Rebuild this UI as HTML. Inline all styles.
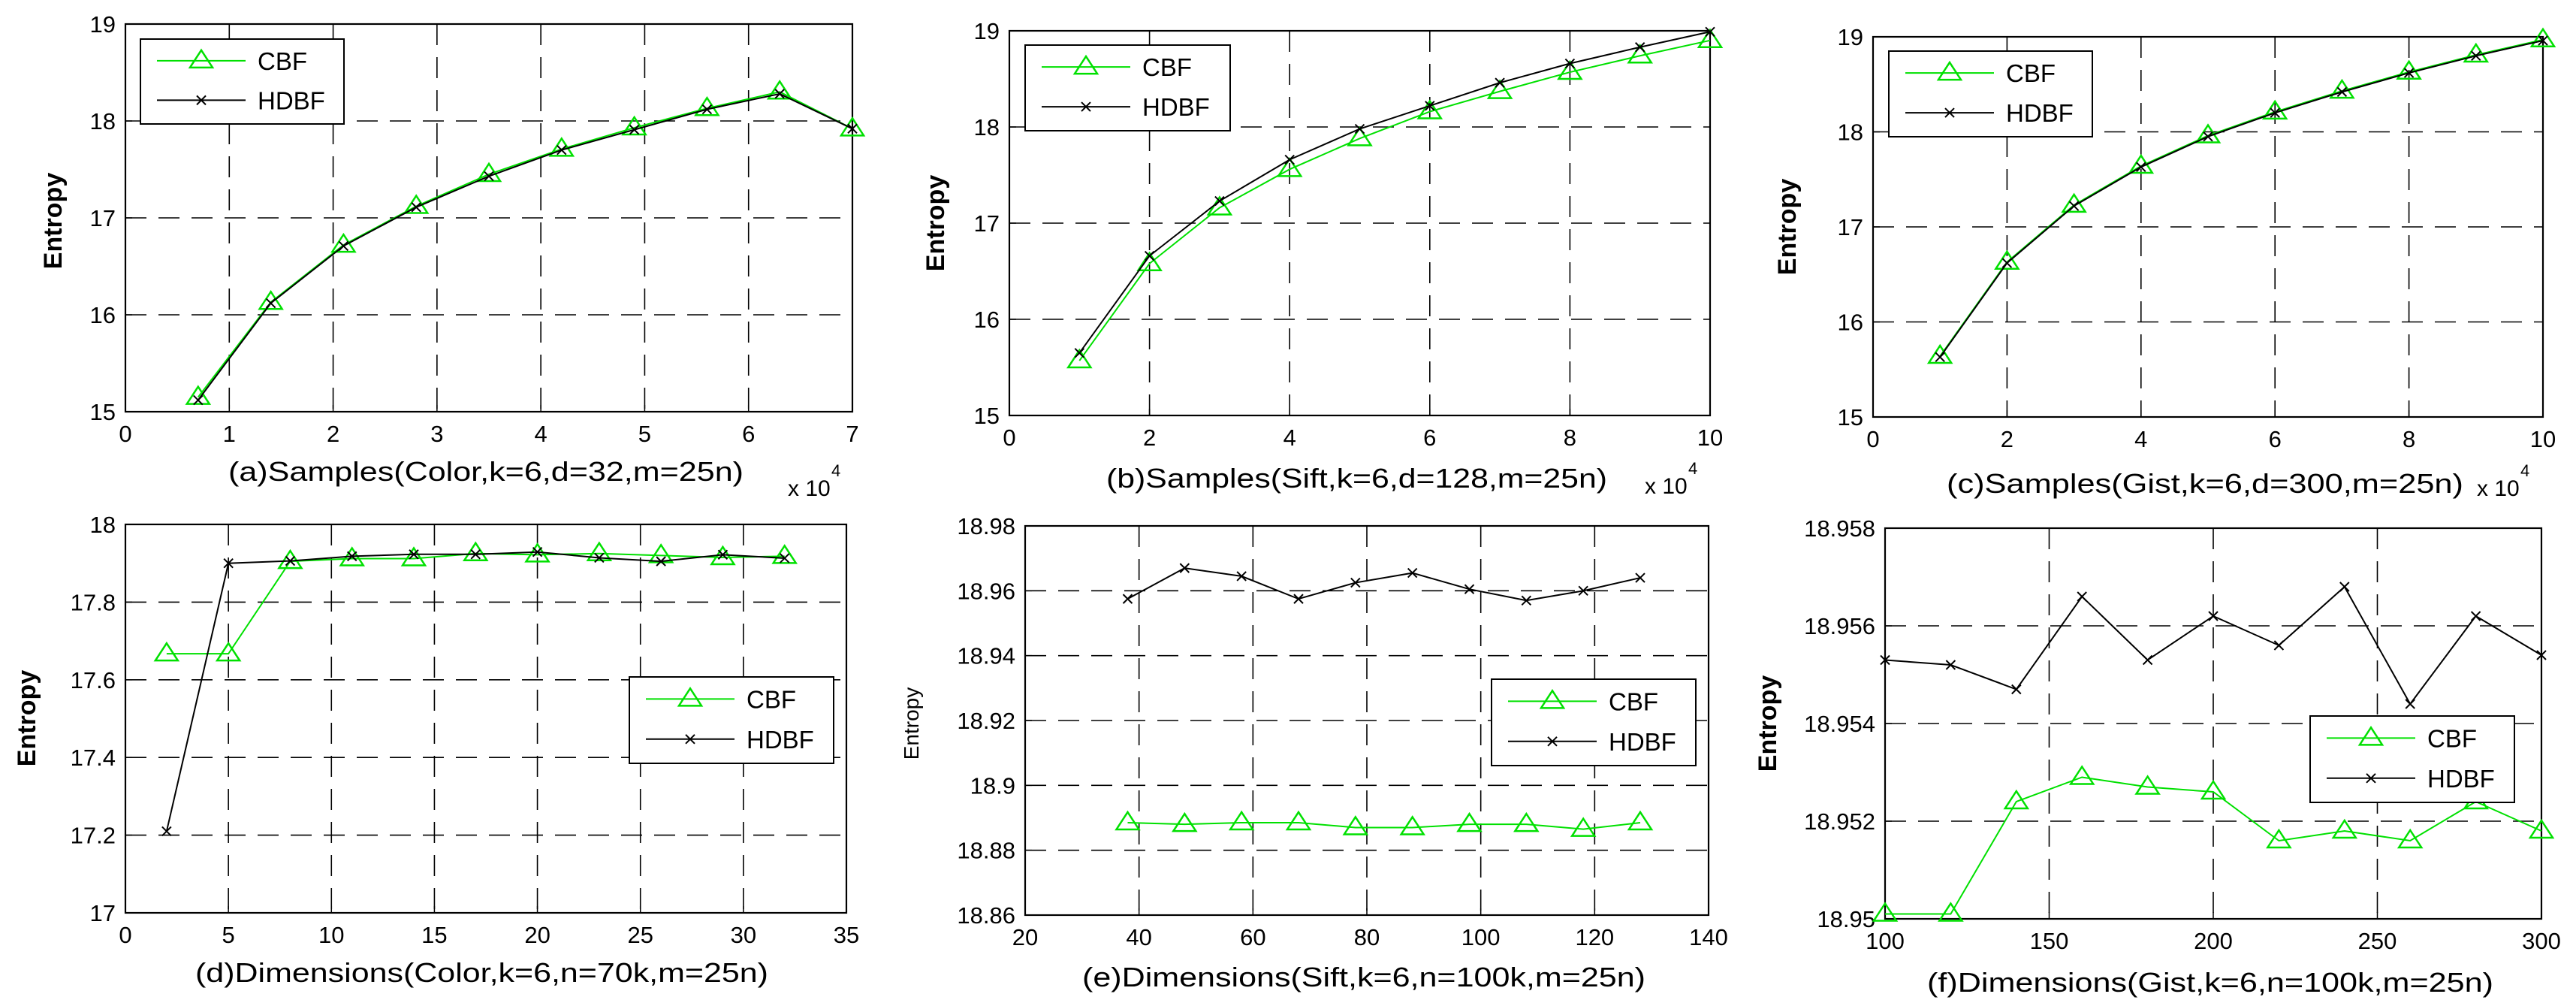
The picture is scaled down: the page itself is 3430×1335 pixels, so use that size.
<!DOCTYPE html>
<html><head><meta charset="utf-8"><style>
html,body{margin:0;padding:0;background:#fff;}
svg{display:block;font-family:"Liberation Sans",Arial,sans-serif;}
</style></head><body>
<svg id="fig" width="3430" height="1335" viewBox="0 0 3430 1335" xmlns="http://www.w3.org/2000/svg">
<rect width="3430" height="1335" fill="#fff"/>
</svg>
<script>
// ---- data (a) ----
const aX=[0.7,1.4,2.1,2.8,3.5,4.2,4.9,5.6,6.3,7.0];
const aCBF=[15.15,16.13,16.72,17.12,17.45,17.71,17.93,18.13,18.30,17.92];
const aHDBF=[15.12,16.12,16.71,17.11,17.43,17.70,17.91,18.12,18.28,17.92];
const aXTicks=[0,1,2,3,4,5,6,7];
const aYTicks=[15,16,17,18,19];
// ---- data (b) ----
const bX=[1,2,3,4,5,6,7,8,9,10];
const bCBF=[15.57,16.58,17.16,17.56,17.88,18.16,18.37,18.57,18.74,18.90];
const bHDBF=[15.65,16.66,17.23,17.66,17.98,18.22,18.46,18.66,18.83,18.99];
const bXTicks=[0,2,4,6,8,10];
const bYTicks=[15,16,17,18,19];
// ---- data (c) ----
const cX=[1,2,3,4,5,6,7,8,9,10];
const cCBF=[15.64,16.63,17.23,17.64,17.96,18.21,18.43,18.63,18.81,18.97];
const cHDBF=[15.63,16.62,17.22,17.63,17.95,18.20,18.42,18.62,18.80,18.96];
const cXTicks=[0,2,4,6,8,10];
const cYTicks=[15,16,17,18,19];
// ---- data (d) ----
const dX=[2,5,8,11,14,17,20,23,26,29,32];
const dCBF=[17.667,17.667,17.905,17.912,17.912,17.925,17.922,17.925,17.920,17.915,17.918];
const dHDBF=[17.21,17.90,17.906,17.918,17.923,17.923,17.929,17.914,17.905,17.922,17.913];
const dXTicks=[0,5,10,15,20,25,30,35];
const dYTicks=[17,17.2,17.4,17.6,17.8,18];
const dYLabels=["17","17.2","17.4","17.6","17.8","18"];
// ---- data (e) ----
const eX=[38,48,58,68,78,88,98,108,118,128];
const eCBF=[18.8885,18.888,18.8885,18.8885,18.887,18.887,18.888,18.888,18.8865,18.8885];
const eHDBF=[18.9575,18.967,18.9645,18.9575,18.9625,18.9655,18.9605,18.957,18.960,18.964];
const eXTicks=[20,40,60,80,100,120,140];
const eYTicks=[18.86,18.88,18.90,18.92,18.94,18.96,18.98];
const eYLabels=["18.86","18.88","18.9","18.92","18.94","18.96","18.98"];
// ---- data (f) ----
const fX=[100,120,140,160,180,200,220,240,260,280,300];
const fCBF=[18.9501,18.9501,18.9524,18.9529,18.9527,18.9526,18.9516,18.9518,18.9516,18.9524,18.9518];
const fHDBF=[18.9553,18.9552,18.9547,18.9566,18.9553,18.9562,18.9556,18.9568,18.9544,18.9562,18.9554];
const fXTicks=[100,150,200,250,300];
const fYTicks=[18.950,18.952,18.954,18.956,18.958];
const fYLabels=["18.95","18.952","18.954","18.956","18.958"];

const NS="http://www.w3.org/2000/svg";
const svg=document.getElementById('fig');
function mk(tag,attrs,parent){const e=document.createElementNS(NS,tag);for(const k in attrs)e.setAttribute(k,attrs[k]);(parent||svg).appendChild(e);return e;}

const panels=[
 {id:'a',L:167,R:1135,T:32,B:548,x:aX,cbf:aCBF,hdbf:aHDBF,xt:aXTicks,yt:aYTicks,yl:null,xmin:0,xmax:7,ymin:15,ymax:19,
  title:"(a)Samples(Color,k=6,d=32,m=25n)",tx:304,tw:686,ty:640,exp:[1049,660],ent:[70,294,34,true],leg:[187,52,271,113]},
 {id:'b',L:1344,R:2277,T:41,B:553,x:bX,cbf:bCBF,hdbf:bHDBF,xt:bXTicks,yt:bYTicks,yl:null,xmin:0,xmax:10,ymin:15,ymax:19,
  title:"(b)Samples(Sift,k=6,d=128,m=25n)",tx:1473,tw:667,ty:649,exp:[2190,657],ent:[1245,297,34,true],leg:[1365,60,273,114]},
 {id:'c',L:2494,R:3386,T:49,B:555,x:cX,cbf:cCBF,hdbf:cHDBF,xt:cXTicks,yt:cYTicks,yl:null,xmin:0,xmax:10,ymin:15,ymax:19,
  title:"(c)Samples(Gist,k=6,d=300,m=25n)",tx:2592,tw:688,ty:656,exp:[3298,660],ent:[2379,302,34,true],leg:[2515,68,271,114]},
 {id:'d',L:167,R:1127,T:698,B:1215,x:dX,cbf:dCBF,hdbf:dHDBF,xt:dXTicks,yt:dYTicks,yl:dYLabels,xmin:0,xmax:35,ymin:17,ymax:18,
  title:"(d)Dimensions(Color,k=6,n=70k,m=25n)",tx:260,tw:763,ty:1307,exp:null,ent:[35,956,34,true],leg:[838,901,272,115]},
 {id:'e',L:1365,R:2275,T:700,B:1218,x:eX,cbf:eCBF,hdbf:eHDBF,xt:eXTicks,yt:eYTicks,yl:eYLabels,xmin:20,xmax:140,ymin:18.86,ymax:18.98,
  title:"(e)Dimensions(Sift,k=6,n=100k,m=25n)",tx:1441,tw:750,ty:1313,exp:null,ent:[1213,963,28,false],leg:[1986,904,272,115]},
 {id:'f',L:2510,R:3384,T:703,B:1223,x:fX,cbf:fCBF,hdbf:fHDBF,xt:fXTicks,yt:fYTicks,yl:fYLabels,xmin:100,xmax:300,ymin:18.95,ymax:18.958,
  title:"(f)Dimensions(Gist,k=6,n=100k,m=25n)",tx:2566,tw:754,ty:1320,exp:null,ent:[2353,963,34,true],leg:[3076,953,272,115]}
];

function tri(g,cx,cy){
  const t=mk('polygon',{points:`${cx-15},${cy+9} ${cx+15},${cy+9} ${cx},${cy-14}`,fill:'none',stroke:'#00e000','stroke-width':2.5},g);
  
  
}
function cross(g,cx,cy){
  const p=mk('path',{d:`M${cx-6},${cy-6}L${cx+6},${cy+6}M${cx-6},${cy+6}L${cx+6},${cy-6}`,stroke:'#000','stroke-width':2,fill:'none'},g);
  
  
}

panels.forEach(p=>{
  const g=mk('g',{});
  
  
  const sx=v=>p.L+(v-p.xmin)/(p.xmax-p.xmin)*(p.R-p.L);
  const sy=v=>p.B-(v-p.ymin)/(p.ymax-p.ymin)*(p.B-p.T);
  // grid
  p.xt.forEach(v=>{const x=sx(v);if(Math.abs(x-p.L)>2&&Math.abs(x-p.R)>2){
    const l=mk('line',{x1:x,y1:p.T,x2:x,y2:p.B,stroke:'#000','stroke-width':1.6,'stroke-dasharray':'28 16'},g);
    
    }});
  p.yt.forEach(v=>{const y=sy(v);if(Math.abs(y-p.T)>2&&Math.abs(y-p.B)>2){
    const l=mk('line',{x1:p.L,y1:y,x2:p.R,y2:y,stroke:'#000','stroke-width':1.6,'stroke-dasharray':'28 16'},g);
    
    }});
  // axes box
  const box=mk('rect',{x:p.L,y:p.T,width:p.R-p.L,height:p.B-p.T,fill:'none',stroke:'#000','stroke-width':2.2},g);
  
  
  // tick labels
  p.xt.forEach(v=>{
    const t=mk('text',{x:sx(v),y:p.B+40,'font-size':31,'text-anchor':'middle'},g);t.textContent=String(v);
    
    
    mk('line',{x1:sx(v),y1:p.B,x2:sx(v),y2:p.B-9,stroke:'#000','stroke-width':1.5},g);
  });
  p.yt.forEach((v,i)=>{
    const t=mk('text',{x:p.L-13,y:sy(v)+11,'font-size':31,'text-anchor':'end'},g);t.textContent=p.yl?p.yl[i]:String(v);
    
    
    mk('line',{x1:p.L,y1:sy(v),x2:p.L+9,y2:sy(v),stroke:'#000','stroke-width':1.5},g);
  });
  // series
  const cp=mk('polyline',{points:p.x.map((v,i)=>sx(v)+','+sy(p.cbf[i])).join(' '),fill:'none',stroke:'#00e000','stroke-width':2},g);
  
  
  p.x.forEach((v,i)=>tri(g,sx(v),sy(p.cbf[i])));
  const hp=mk('polyline',{points:p.x.map((v,i)=>sx(v)+','+sy(p.hdbf[i])).join(' '),fill:'none',stroke:'#000','stroke-width':2},g);
  
  
  p.x.forEach((v,i)=>cross(g,sx(v),sy(p.hdbf[i])));
  // title
  const ti=mk('text',{x:p.tx,y:p.ty,'font-size':36,textLength:p.tw,lengthAdjust:'spacingAndGlyphs'},g);ti.textContent=p.title;
  
  
  if(p.exp){
    const ex=mk('text',{x:p.exp[0],y:p.exp[1],'font-size':30},g);ex.textContent='x 10';
    
    
    const e4=mk('text',{x:p.exp[0]+58,y:p.exp[1]-26,'font-size':22},g);e4.textContent='4';
    
    
  }
  // y label
  const en=p.ent;
  const yl=mk('text',{x:0,y:0,'font-size':en[2],'font-weight':en[3]?'bold':'normal','text-anchor':'middle',transform:`translate(${en[0]+en[2]*0.35},${en[1]}) rotate(-90)`},g);
  yl.textContent='Entropy';
  
  
  // legend
  const [lx,ly,lw,lh]=p.leg;
  const lg=mk('g',{},g);
  
  
  mk('rect',{x:lx,y:ly,width:lw,height:lh,fill:'#fff',stroke:'#000','stroke-width':2},lg);
  const y1=ly+lh*0.255,y2=ly+lh*0.72;
  mk('line',{x1:lx+22,y1:y1,x2:lx+140,y2:y1,stroke:'#00e000','stroke-width':2},lg);
  tri(lg,lx+81,y1);
  const t1=mk('text',{x:lx+156,y:y1+12,'font-size':33},lg);t1.textContent='CBF';
  
  
  mk('line',{x1:lx+22,y1:y2,x2:lx+140,y2:y2,stroke:'#000','stroke-width':2},lg);
  cross(lg,lx+81,y2);
  const t2=mk('text',{x:lx+156,y:y2+12,'font-size':33},lg);t2.textContent='HDBF';
  
  
});
</script>
</body></html>
